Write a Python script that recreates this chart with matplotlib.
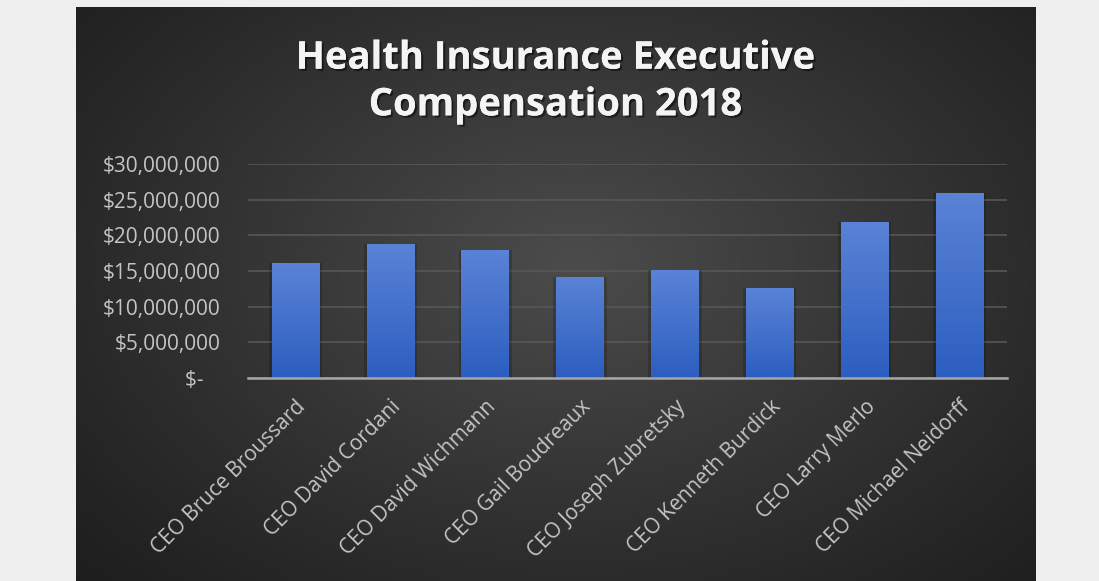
import numpy as np
import matplotlib.pyplot as plt
import matplotlib.patheffects as pe
from matplotlib.ticker import FuncFormatter

# data
ceos = ["CEO Bruce Broussard", "CEO David Cordani", "CEO David Wichmann",
        "CEO Gail Boudreaux", "CEO Joseph Zubretsky", "CEO Kenneth Burdick",
        "CEO Larry Merlo", "CEO Michael Neidorff"]
pay = [16.1e6, 18.8e6, 18.0e6, 14.2e6, 15.1e6, 12.6e6, 21.9e6, 26.0e6]
yticks = [0, 5e6, 10e6, 15e6, 20e6, 25e6, 30e6]

plt.rcParams['font.family'] = ['Open Sans', 'DejaVu Sans']

W, H = 1099, 581
fig = plt.figure(figsize=(W / 100, H / 100), dpi=100)
fig.patch.set_facecolor("#efefef")

# dark panel with radial gradient
bg = fig.add_axes([76 / W, 0, (1036 - 76) / W, (H - 7) / H])
bg.set_axis_off()
yy, xx = np.mgrid[0:1:300j, 0:1:500j]
r = np.sqrt(((xx - 0.52) / 0.75) ** 2 + ((yy - 0.55) / 0.85) ** 2)
shade = np.clip(1 - r, 0, 1)
lo = np.array([0x1c, 0x1c, 0x1c]) / 255
hi = np.array([0x4c, 0x4c, 0x4c]) / 255
img = lo + (hi - lo) * shade[..., None] ** 1.1
bg.imshow(img, aspect="auto", extent=[0, 1, 0, 1], origin="lower")
bg.set_xlim(0, 1)
bg.set_ylim(0, 1)

ax = fig.add_axes([248 / W, 1 - 378 / H, (1007 - 248) / W, (378 - 164) / H])
ax.patch.set_alpha(0)
x = np.arange(len(ceos))

# soft shadow around bars
ax.bar(x, pay, width=0.56, color="black", alpha=0.18, zorder=2)
bars = ax.bar(x, pay, width=0.5, color="#3e6fcf", zorder=3)

grad = np.linspace(0, 1, 256)[:, None]
top = np.array([0x5a, 0x83, 0xd6]) / 255
bot = np.array([0x2c, 0x5e, 0xc0]) / 255
gimg = bot + (top - bot) * grad[..., None]
for b in bars:
    bx, by = b.get_x(), b.get_y()
    im = ax.imshow(gimg, aspect="auto", origin="lower", zorder=4,
                   extent=[bx, bx + b.get_width(), by, by + b.get_height()])
    im.set_clip_path(b)

ax.set_xlim(-0.5, len(ceos) - 0.5)
ax.set_ylim(0, 30e6)
ax.set_yticks(yticks)
ax.yaxis.set_major_formatter(FuncFormatter(
    lambda v, p: "$-   " if v == 0 else "${:,.0f}".format(v)))
ax.grid(axis="y", color="#575757", lw=1.2, zorder=1)
ax.set_axisbelow(True)
for s in ["top", "right", "left"]:
    ax.spines[s].set_visible(False)
ax.spines["bottom"].set_color("#a6a6a6")
ax.spines["bottom"].set_linewidth(1.8)
ax.spines["bottom"].set_zorder(5)

ax.set_xticks(x)
ax.set_xticklabels(ceos, rotation=45, ha="right", rotation_mode="anchor")
ax.tick_params(axis="both", length=0, colors="#c4c4c4", labelsize=15)
ax.tick_params(axis="y", pad=20)
ax.tick_params(axis="x", pad=13)

title = fig.text(556 / W, 1 - 82 / H, "Health Insurance Executive\nCompensation 2018",
                 ha="center", va="center", color="#f4f4f4", fontsize=27.5,
                 fontweight="bold", linespacing=1.3)
title.set_path_effects([pe.withSimplePatchShadow(offset=(1.5, -1.5), shadow_rgbFace="black", alpha=0.5),
                        pe.Normal()])

fig.savefig("out.png", dpi=100, facecolor=fig.get_facecolor())
